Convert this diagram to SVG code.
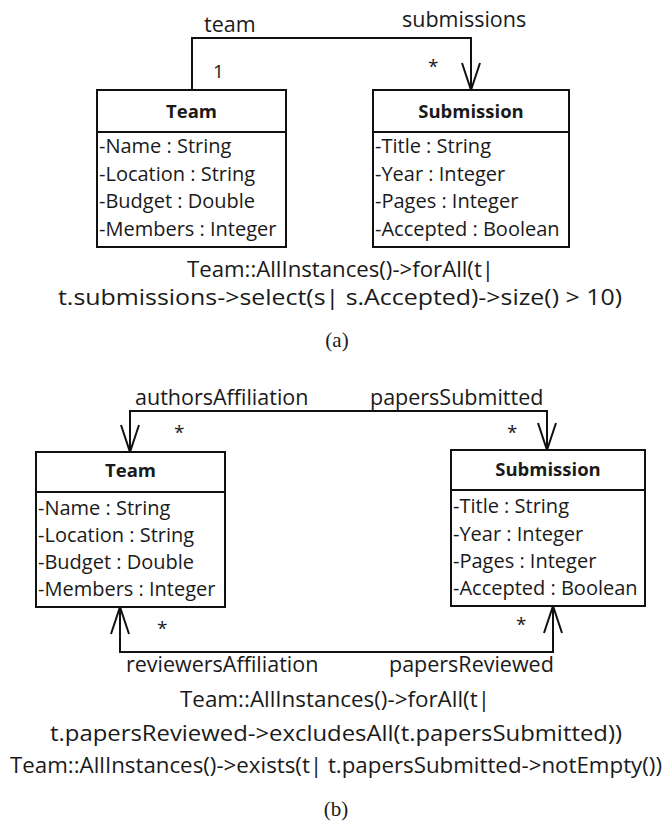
<svg xmlns="http://www.w3.org/2000/svg" width="672" height="836" viewBox="0 0 672 836">
<style>
.box{fill:#fff;stroke:#111;stroke-width:2}
.sep{stroke:#111;stroke-width:2}
.conn{fill:none;stroke:#111;stroke-width:2}
text{font-family:"Open Sans","Noto Sans",sans-serif;fill:#1a1a1a}
.title{font-weight:bold;font-size:18.5px;text-anchor:middle}
.attr{font-size:20px}
.lbl{font-size:21.5px}
.mult{font-size:19px}
.ocl{font-size:22px;text-anchor:middle}
.cap{font-family:"Liberation Serif",serif;font-size:21px;text-anchor:middle}
</style>
<defs>
<marker id="open" markerUnits="userSpaceOnUse" markerWidth="30" markerHeight="20" refX="27" refY="9" orient="auto-start-reverse" overflow="visible">
<path d="M0,0 L27,9 L0,18" fill="none" stroke="#111" stroke-width="2"/>
</marker>
</defs>

<g id="connectors">
<path class="conn" d="M192,90 V38 H471 V90" marker-end="url(#open)"/>
<path class="conn" d="M130,452 V411 H547 V450" marker-start="url(#open)" marker-end="url(#open)"/>
<path class="conn" d="M120,607 V652 H553 V606" marker-start="url(#open)" marker-end="url(#open)"/>
</g>

<g id="labels-a">
<text class="lbl" x="204" y="32">team</text>
<text class="lbl" x="402" y="27">submissions</text>
<text class="mult" x="213" y="78">1</text>
<text class="mult" x="428" y="73">*</text>
</g>

<g id="team-a">
<rect class="box" x="97" y="90" width="189" height="157"/>
<line class="sep" x1="97" y1="132" x2="286" y2="132"/>
<text class="title" x="191.5" y="118">Team</text>
<text class="attr" x="99" y="153">-Name : String</text>
<text class="attr" x="99" y="181">-Location : String</text>
<text class="attr" x="99" y="208">-Budget : Double</text>
<text class="attr" x="99" y="236">-Members : Integer</text>
</g>

<g id="submission-a">
<rect class="box" x="373" y="90" width="196" height="157"/>
<line class="sep" x1="373" y1="132" x2="569" y2="132"/>
<text class="title" x="471" y="118">Submission</text>
<text class="attr" x="375" y="153">-Title : String</text>
<text class="attr" x="375" y="181">-Year : Integer</text>
<text class="attr" x="375" y="208">-Pages : Integer</text>
<text class="attr" x="375" y="236">-Accepted : Boolean</text>
</g>

<g id="ocl-a">
<text class="ocl" x="340.5" y="277" textLength="307" lengthAdjust="spacingAndGlyphs">Team::AllInstances()-&gt;forAll(t|</text>
<text class="ocl" x="340" y="305" textLength="564" lengthAdjust="spacingAndGlyphs">t.submissions-&gt;select(s| s.Accepted)-&gt;size() &gt; 10)</text>
<text class="cap" x="337" y="347">(a)</text>
</g>

<g id="labels-b">
<text class="lbl" x="135" y="405">authorsAffiliation</text>
<text class="lbl" x="370" y="405">papersSubmitted</text>
<text class="mult" x="174" y="439">*</text>
<text class="mult" x="507" y="439">*</text>
<text class="mult" x="157" y="635">*</text>
<text class="mult" x="516" y="631">*</text>
<text class="lbl" x="126" y="672">reviewersAffiliation</text>
<text class="lbl" x="389" y="672">papersReviewed</text>
</g>

<g id="team-b">
<rect class="box" x="36" y="452" width="189" height="155"/>
<line class="sep" x1="36" y1="492" x2="225" y2="492"/>
<text class="title" x="130.5" y="477">Team</text>
<text class="attr" x="38" y="515">-Name : String</text>
<text class="attr" x="38" y="542">-Location : String</text>
<text class="attr" x="38" y="569">-Budget : Double</text>
<text class="attr" x="38" y="596">-Members : Integer</text>
</g>

<g id="submission-b">
<rect class="box" x="451" y="450" width="194" height="156"/>
<line class="sep" x1="451" y1="490" x2="645" y2="490"/>
<text class="title" x="548" y="476">Submission</text>
<text class="attr" x="453" y="513">-Title : String</text>
<text class="attr" x="453" y="541">-Year : Integer</text>
<text class="attr" x="453" y="568">-Pages : Integer</text>
<text class="attr" x="453" y="595">-Accepted : Boolean</text>
</g>

<g id="ocl-b">
<text class="ocl" x="335" y="707" textLength="310" lengthAdjust="spacingAndGlyphs">Team::AllInstances()-&gt;forAll(t|</text>
<text class="ocl" x="336" y="741" textLength="572" lengthAdjust="spacingAndGlyphs">t.papersReviewed-&gt;excludesAll(t.papersSubmitted))</text>
<text class="ocl" x="336" y="773" textLength="652" lengthAdjust="spacingAndGlyphs">Team::AllInstances()-&gt;exists(t| t.papersSubmitted-&gt;notEmpty())</text>
<text class="cap" x="336" y="816">(b)</text>
</g>
</svg>
